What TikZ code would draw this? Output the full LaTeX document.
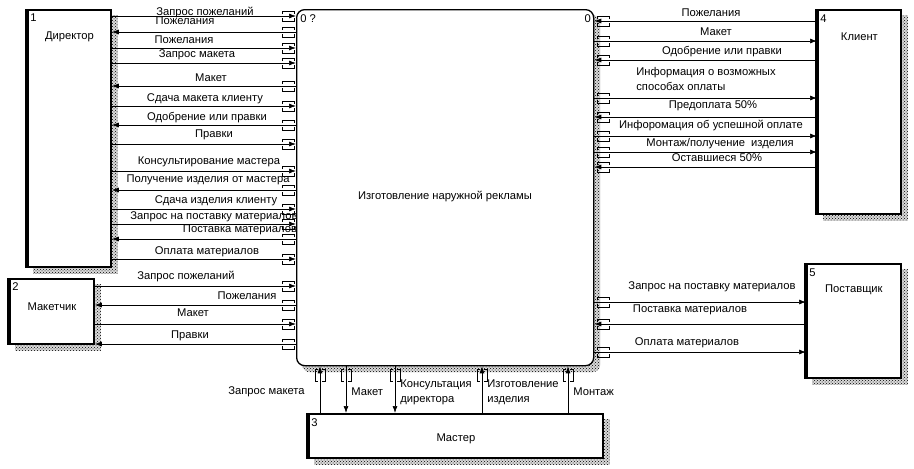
\documentclass[tikz,border=0pt]{standalone}
\usepackage{fontspec}
\setmainfont{Liberation Sans}
\usetikzlibrary{positioning, calc, arrows.meta, patterns, backgrounds}

\tikzset{
	box/.style={draw, line width=1.8pt, fill=white, inner sep=0, anchor=north west},
	hatch/.style={preaction={fill=gray!30}, pattern=crosshatch dots, pattern color=black},
	lbl/.style={font=\fontsize{11.2}{15}\selectfont, inner sep=0, align=left},
	num/.style={lbl, anchor=north west},
	rt/.style={-{Latex[length=7pt,width=5pt]}},
	lt/.style={{Latex[length=7pt,width=5pt]}-},
	tunh/.pic={\draw[line width=0.5pt] (-6,-2) -- (-6,-5) -- (6,-5) -- (6,-2) (-6,2) -- (-6,5) -- (6,5) -- (6,2);},
	tunv/.pic={\draw[line width=0.5pt] (-2,-6) -- (-5,-6) -- (-5,6) -- (-2,6) (2,-6) -- (5,-6) -- (5,6) -- (2,6);}
}

\begin{document}
\begin{tikzpicture}[x=1pt, y=-1pt, line width=0.7pt]
\useasboundingbox (0,0) rectangle (914,469);

% блоки
\node[box, rounded corners=8, line width=1.3pt, minimum width=297, minimum height=356] (ctr) at (296,9) {};
\node[box, minimum width=83, minimum height=257] (dir) at (27,9) {};
\node[box, minimum width=84, minimum height=65] (mak) at (9,278) {};
\node[box, minimum width=83, minimum height=204] (cli) at (817,9) {};
\node[box, minimum width=94, minimum height=114] (sup) at (806,263) {};
\node[box, minimum width=294, minimum height=44] (mas) at (308,413) {};
\foreach \b in {dir, mak, cli, sup, mas}
	\draw[line width=3.5pt] (\b.north west) -- (\b.south west);

\begin{scope}[on background layer]
\foreach \b in {dir, mak, cli, sup, mas}
	\fill[hatch] ($(\b.north west)+(6,6)$) rectangle ($(\b.south east)+(6,6)$);
\fill[hatch, rounded corners=8] ($(ctr.north west)+(6,6)$) rectangle ($(ctr.south east)+(6,6)$);
\end{scope}

\node[num] (ctrnum) at ($(ctr.north west)+(4,5)$) {0 ?};
\node[lbl, anchor=north east] (ctrnum2) at ($(ctr.north east)+(-3,5)$) {0};
\node[lbl] (ctrname) at (445,197) {Изготовление наружной рекламы};
\node[num] (dirnum) at ($(dir.north west)+(3,4)$) {1};
\node[lbl] (dirname) at ($(dir.north)+(0,28)$) {Директор};
\node[num] (maknum) at ($(mak.north west)+(3,4)$) {2};
\node[lbl] (makname) at ($(mak.center)+(0,-5)$) {Макетчик};
\node[num] (masnum) at ($(mas.north west)+(3,5)$) {3};
\node[lbl] (masname) at ($(mas.center)+(0,3)$) {Мастер};
\node[num] (clinum) at ($(cli.north west)+(3,5)$) {4};
\node[lbl] (cliname) at ($(cli.north)+(0,28)$) {Клиент};
\node[num] (supnum) at ($(sup.north west)+(3,5)$) {5};
\node[lbl] (supname) at ($(sup.north)+(0,27)$) {Поставщик};

% Директор
\foreach \y/\ly/\lx/\d/\t [count=\i] in {16/13/205/rt/Запрос пожеланий, 32/21/185/lt/Пожелания,
		48/40/184/rt/Пожелания, 63/55/197/rt/Запрос макета, 86/78/211/lt/Макет,
		106/99/205/rt/Сдача макета клиенту, 125/118/207/lt/Одобрение или правки, 144/135/214/rt/Правки,
		171/162/209/rt/Консультирование мастера, 190/180/208/lt/Получение изделия от мастера,
		209/201/216/rt/Сдача изделия клиенту, 224/217/214/rt/Запрос на поставку материалов,
		239/230/240/lt/Поставка материалов, 259/252/207/rt/Оплата материалов} {
	\draw[\d] (dir.east |- 0,\y) -- (ctr.west |- 0,\y);
	\pic at ($(ctr.west |- 0,\y)+(-8,0)$) {tunh};
	\node[lbl] (dl\i) at (\lx,\ly) {\t};
}

% Макетчик
\foreach \y/\ly/\lx/\d/\t [count=\i] in {286/277/186/rt/Запрос пожеланий, 305/296/247/lt/Пожелания,
		324/313/193/rt/Макет, 344/336/190/lt/Правки} {
	\draw[\d] (mak.east |- 0,\y) -- (ctr.west |- 0,\y);
	\pic at ($(ctr.west |- 0,\y)+(-8,0)$) {tunh};
	\node[lbl] (ml\i) at (\lx,\ly) {\t};
}

% Клиент
\foreach \y/\ly/\lx/\d/\t [count=\i] in {21/13/711/lt/Пожелания, 41/32/716/rt/Макет,
		60/52/722/lt/Одобрение или правки, 98/78.5/706/rt/{Информация о возможных\\способах оплаты},
		117/106/713/lt/Предоплата 50\%, 136/126/711/rt/Инфоромация об успешной оплате,
		152/144/720/rt/{Монтаж/получение\ \ изделия}, 167/158/717/lt/Оставшиеся 50\%} {
	\draw[\d] (ctr.east |- 0,\y) -- (cli.west |- 0,\y);
	\pic at ($(ctr.east |- 0,\y)+(9,0)$) {tunh};
	\node[lbl] (cl\i) at (\lx,\ly) {\t};
}

% Поставщик
\foreach \y/\ly/\lx/\d/\t [count=\i] in {302/287/712/rt/Запрос на поставку материалов,
		324/310/690/lt/Поставка материалов, 352/343/687/rt/Оплата материалов} {
	\draw[\d] (ctr.east |- 0,\y) -- (sup.west |- 0,\y);
	\pic at ($(ctr.east |- 0,\y)+(9,0)$) {tunh};
	\node[lbl] (sl\i) at (\lx,\ly) {\t};
}

% Мастер
\foreach \x/\d/\lx/\a/\t [count=\i] in {320/rt/305/east/Запрос макета, 346/lt/351/west/Макет,
		395/lt/400/west/{Консультация\\директора}, 482/rt/487/west/{Изготовление\\изделия},
		568/rt/573/west/Монтаж} {
	\draw[\d] (mas.north -| \x,0) -- (ctr.south -| \x,0);
	\pic at ($(ctr.south -| \x,0)+(0,9)$) {tunv};
	\node[lbl, anchor=\a] (al\i) at (\lx,392) {\t};
}
\end{tikzpicture}
\end{document}
